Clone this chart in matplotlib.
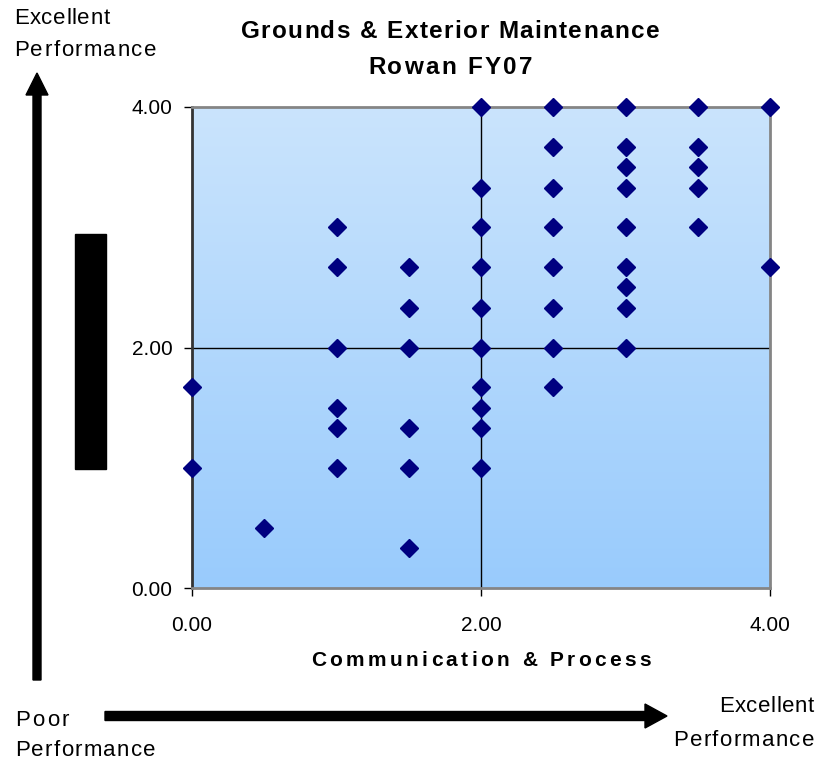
import numpy as np
import matplotlib
matplotlib.use("Agg")
import matplotlib.pyplot as plt
from matplotlib.colors import LinearSegmentedColormap
from matplotlib.patches import FancyArrow, Rectangle

plt.rcParams['font.family'] = ['Liberation Sans', 'DejaVu Sans']

# Survey scores: communication & process (x) vs. performance (y)
comm = [0, 0,
        0.5,
        1, 1, 1, 1, 1, 1,
        1.5, 1.5, 1.5, 1.5, 1.5, 1.5,
        2, 2, 2, 2, 2, 2, 2, 2, 2, 2,
        2.5, 2.5, 2.5, 2.5, 2.5, 2.5, 2.5, 2.5,
        3, 3, 3, 3, 3, 3, 3, 3, 3,
        3.5, 3.5, 3.5, 3.5, 3.5,
        4, 4]
perf = [1.67, 1.0,
        0.5,
        3.0, 2.67, 2.0, 1.5, 1.33, 1.0,
        2.67, 2.33, 2.0, 1.33, 1.0, 0.33,
        4.0, 3.33, 3.0, 2.67, 2.33, 2.0, 1.67, 1.5, 1.33, 1.0,
        4.0, 3.67, 3.33, 3.0, 2.67, 2.33, 2.0, 1.67,
        4.0, 3.67, 3.5, 3.33, 3.0, 2.67, 2.5, 2.33, 2.0,
        4.0, 3.67, 3.5, 3.33, 3.0,
        4.0, 2.67]
ticks = [0, 2, 4]
tick_labels = ["0.00", "2.00", "4.00"]

W, H = 818, 761
fig = plt.figure(figsize=(W / 100, H / 100), dpi=100)
renderer = fig.canvas.get_renderer()


def text_width(s, **kw):
    t = fig.text(0, 0, s, **kw)
    w = t.get_window_extent(renderer).width
    t.remove()
    return w


def tracked_text(x, y, s, track=0.0, ha="left", **kw):
    """Draw s with extra letter spacing; x, y in pixels from the top-left."""
    bar = text_width("|", **kw)
    offsets = [0.0] + [text_width(s[:i] + "|", **kw) - bar + i * track
                       for i in range(1, len(s))]
    total = text_width(s, **kw) + (len(s) - 1) * track
    if ha == "center":
        x -= total / 2
    elif ha == "right":
        x -= total
    for ch, off in zip(s, offsets):
        if ch != " ":
            fig.text((x + off) / W, 1 - y / H, ch, ha="left", va="center", **kw)


ax = fig.add_axes([192 / W, 1 - 588 / H, (770 - 192) / W, (588 - 107) / H])

# vertical blue gradient fill of the plot area (light at top, deeper at bottom)
cmap = LinearSegmentedColormap.from_list("bg", ["#cae4fc", "#99cbfd"])
grad = np.linspace(0, 1, 256).reshape(-1, 1)
ax.imshow(grad, cmap=cmap, aspect="auto", extent=[0, 1, 0, 1], origin="upper",
          transform=ax.transAxes, zorder=0)

ax.set_xlim(0, 4)
ax.set_ylim(0, 4)
ax.axvline(2, color="black", lw=1, zorder=1)
ax.axhline(2, color="black", lw=1, zorder=1)

ax.plot(comm, perf, linestyle="none", marker="D", ms=9,
        color="#000080", mec="#000080", clip_on=False, zorder=3)

ax.set_xticks(ticks)
ax.set_xticklabels(tick_labels)
ax.set_yticks(ticks)
ax.set_yticklabels(tick_labels)
ax.tick_params(axis="both", labelsize=15, length=6, width=1, color="black",
               direction="out")
ax.tick_params(axis="x", pad=14)
ax.tick_params(axis="y", pad=8)

for side in ("top", "right", "bottom"):
    ax.spines[side].set_color("#858585")
    ax.spines[side].set_linewidth(2)
ax.spines["left"].set_color("#333333")
ax.spines["left"].set_linewidth(2)

bold = dict(fontsize=17.5, fontweight="bold")
tracked_text(450, 32, "Grounds & Exterior Maintenance", track=1.4, ha="center", **bold)
tracked_text(450, 67, "Rowan FY07", track=2.2, ha="center", **bold)
tracked_text(481, 660, "Communication & Process", track=3.4, ha="center",
             fontsize=15, fontweight="bold")

# performance direction annotations
reg = dict(fontsize=16)
tracked_text(14, 18, "Excellent", track=0.6, **reg)
tracked_text(14, 50, "Performance", track=1.5, **reg)
tracked_text(15, 720, "Poor", track=2.5, **reg)
tracked_text(15, 751, "Performance", track=1.3, **reg)
tracked_text(814, 707, "Excellent", track=0.5, ha="right", **reg)
tracked_text(814, 740, "Performance", track=1.3, ha="right", **reg)


def px_arrow(x0, y0, x1, y1, width, head_w, head_l):
    # arrow given in pixel units
    s = 1 / fig.dpi
    arr = FancyArrow(x0 * s, (H - y0) * s, (x1 - x0) * s, -(y1 - y0) * s,
                     width=width * s, head_width=head_w * s,
                     head_length=head_l * s, length_includes_head=True,
                     color="black", transform=fig.dpi_scale_trans)
    fig.patches.append(arr)


px_arrow(37, 680, 37, 73, 8, 22, 22)
px_arrow(105, 716, 667, 716, 9, 24, 22)

fig.patches.append(Rectangle((75 / W, 1 - 469 / H), 31 / W, 235 / H,
                             transform=fig.transFigure, color="black"))

fig.savefig("out.png", dpi=100)
